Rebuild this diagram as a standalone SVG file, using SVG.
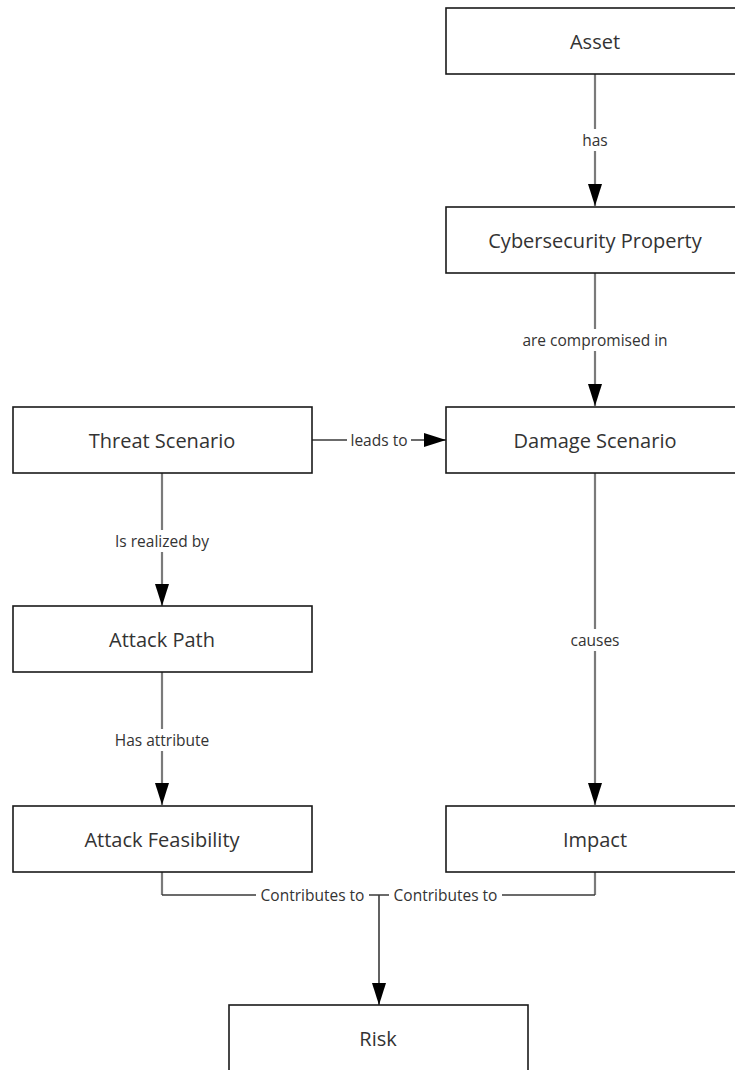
<svg xmlns="http://www.w3.org/2000/svg" width="735" height="1070" viewBox="0 0 735 1070">
<style>
.box{fill:#fff;stroke:#1a1a1a;stroke-width:1.6}
.lbl{font-family:"Open Sans","Liberation Sans",sans-serif;font-size:20px;fill:#333;text-anchor:middle;dominant-baseline:central}
.cl{font-family:"Open Sans","Liberation Sans",sans-serif;font-size:15.5px;fill:#333;text-anchor:middle;dominant-baseline:central}
.ln{fill:none;stroke:#3a3a3a;stroke-width:1.6}
.vl{fill:none;stroke:#7a7a7a;stroke-width:2.2}
.bg{fill:#fff}
</style>
<defs>
<marker id="arr" markerWidth="22" markerHeight="14" refX="22" refY="7" viewBox="0 0 22 14" orient="auto" markerUnits="userSpaceOnUse">
<path d="M0,0 L22,7 L0,14 Z" fill="#000"/>
</marker>
</defs>
<g id="connectors">
<path class="vl" d="M595,74 V206" marker-end="url(#arr)"/>
<rect class="bg" x="579" y="129" width="32" height="22"/>
<text class="cl" x="595" y="140">has</text>
<path class="vl" d="M595,273 V406" marker-end="url(#arr)"/>
<rect class="bg" x="516" y="329" width="158" height="22"/>
<text class="cl" x="595" y="340">are compromised in</text>
<path class="ln" d="M312,440 H446" marker-end="url(#arr)"/>
<rect class="bg" x="347" y="429" width="64" height="22"/>
<text class="cl" x="379" y="440">leads to</text>
<path class="vl" d="M162,473 V606" marker-end="url(#arr)"/>
<rect class="bg" x="110" y="530" width="104" height="22"/>
<text class="cl" x="162" y="541">Is realized by</text>
<path class="vl" d="M162,672 V805" marker-end="url(#arr)"/>
<rect class="bg" x="110" y="729" width="104" height="22"/>
<text class="cl" x="162" y="740">Has attribute</text>
<path class="vl" d="M595,473 V805" marker-end="url(#arr)"/>
<rect class="bg" x="568" y="629" width="54" height="22"/>
<text class="cl" x="595" y="640">causes</text>
<path class="vl" d="M162,872 V895 M595,895 V872"/>
<path class="ln" d="M162,895 H595"/>
<path class="ln" d="M379,895 V1005" marker-end="url(#arr)"/>
<rect class="bg" x="256" y="884" width="113" height="22"/>
<text class="cl" x="312.5" y="895">Contributes to</text>
<rect class="bg" x="389" y="884" width="113" height="22"/>
<text class="cl" x="445.5" y="895">Contributes to</text>
</g>
<g id="asset"><rect class="box" x="446" y="8" width="300" height="66"/><text class="lbl" x="595" y="41">Asset</text></g>
<g id="cyber"><rect class="box" x="446" y="207" width="300" height="66"/><text class="lbl" x="595" y="240">Cybersecurity Property</text></g>
<g id="threat"><rect class="box" x="13" y="407" width="299" height="66"/><text class="lbl" x="162" y="440">Threat Scenario</text></g>
<g id="damage"><rect class="box" x="446" y="407" width="300" height="66"/><text class="lbl" x="595" y="440">Damage Scenario</text></g>
<g id="attackpath"><rect class="box" x="13" y="606" width="299" height="66"/><text class="lbl" x="162" y="639">Attack Path</text></g>
<g id="feasibility"><rect class="box" x="13" y="806" width="299" height="66"/><text class="lbl" x="162" y="839">Attack Feasibility</text></g>
<g id="impact"><rect class="box" x="446" y="806" width="300" height="66"/><text class="lbl" x="595" y="839">Impact</text></g>
<g id="risk"><rect class="box" x="229" y="1005" width="299" height="70"/><text class="lbl" x="378" y="1038">Risk</text></g>
</svg>
